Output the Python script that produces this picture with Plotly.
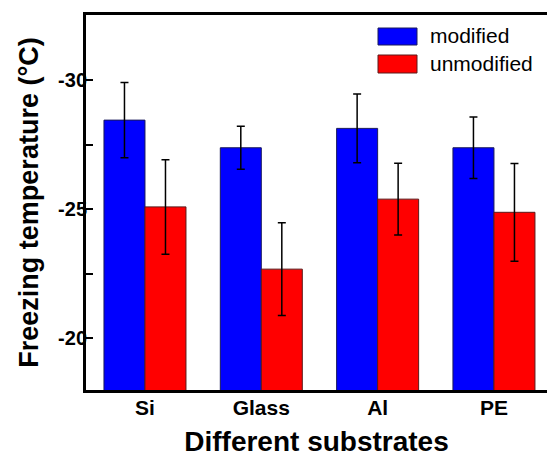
import plotly.graph_objects as go

substrates = ["Si", "Glass", "Al", "PE"]
modified = [-28.45, -27.38, -28.13, -27.38]
modified_err = [1.46, 0.83, 1.33, 1.19]
unmodified = [-25.09, -22.68, -25.39, -24.88]
unmodified_err = [1.83, 1.80, 1.39, 1.89]
y_ticks = [-30, -25, -20]
y_minor = [-30, -27.5, -25, -22.5, -20]

W, H = 547, 463
ml, mr, mt, mb = 86, 0, 15, 73
pw, ph = W - ml - mr, H - mt - mb

fig = go.Figure()
fig.add_trace(go.Bar(
    x=substrates, y=modified, name="modified",
    marker=dict(color="#0000FF", line=dict(color="#1a1a5a", width=1)),
    error_y=dict(type="data", array=modified_err, color="black", thickness=1.5, width=4),
))
fig.add_trace(go.Bar(
    x=substrates, y=unmodified, name="unmodified",
    marker=dict(color="#FF0000", line=dict(color="#5a1a1a", width=1)),
    error_y=dict(type="data", array=unmodified_err, color="black", thickness=1.5, width=4),
))

font_b = "Liberation Sans, Arial, sans-serif"

# legend drawn as boxes + labels in paper coordinates
def px_x(p):
    return (p - ml) / pw

def px_y(p):
    return (H - mb - p) / ph

legend_items = [("modified", "#0000FF", "#1a1a5a", 28, 45, 35),
                ("unmodified", "#FF0000", "#5a1a1a", 55, 73, 63)]
shapes = []
annotations = []
for name, col, edge, y0, y1, ty in legend_items:
    shapes.append(dict(type="rect", xref="paper", yref="paper",
                       x0=px_x(378), x1=px_x(417), y0=px_y(y1), y1=px_y(y0),
                       fillcolor=col, line=dict(color=edge, width=1)))
    annotations.append(dict(xref="paper", yref="paper", x=px_x(428), y=px_y(ty),
                            text=name, showarrow=False, xanchor="left", yanchor="middle",
                            font=dict(family=font_b, size=21, color="black")))

fig.update_layout(
    width=W, height=H,
    margin=dict(l=ml, r=mr, t=mt, b=mb, pad=0),
    paper_bgcolor="white", plot_bgcolor="white",
    barmode="group", bargap=0.295, bargroupgap=0,
    showlegend=False,
    shapes=shapes, annotations=annotations,
    font=dict(family=font_b, color="black"),
    xaxis=dict(
        range=[-0.507, 3.456],
        tickvals=substrates, ticktext=[f"<b>{s}</b>" for s in substrates],
        showline=True, linecolor="black", linewidth=3, mirror=True,
        ticks="", showgrid=False, zeroline=False,
        tickfont=dict(family=font_b, size=21, color="black"),
        ticklabelstandoff=-3,
        title=dict(text="<b>Different substrates</b>", font=dict(family=font_b, size=28, color="black"),
                   standoff=14),
    ),
    yaxis=dict(
        range=[-18, -32.52],
        tickvals=y_ticks, ticktext=[f"<b>{v}</b>" for v in y_ticks],
        ticks="",
        minor=dict(tickvals=y_minor, ticks="inside", ticklen=7, tickwidth=2, tickcolor="black"),
        showline=True, linecolor="black", linewidth=3, mirror=False,
        showgrid=False, zeroline=False,
        tickfont=dict(family=font_b, size=20, color="black", weight=900),
        ticklabelstandoff=-8,
        title=dict(text="<b>Freezing temperature (°C)</b>", font=dict(family=font_b, size=27, color="black"),
                   standoff=12),
    ),
)

fig.write_html("out.html")
